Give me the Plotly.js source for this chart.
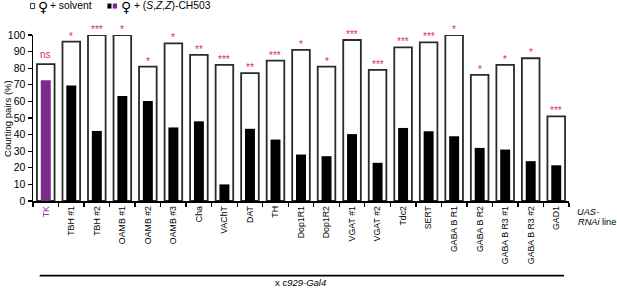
<!DOCTYPE html>
<html>
<head>
<meta charset="utf-8">
<script src="https://cdn.plot.ly/plotly-3.0.1.min.js"></script>
<style>html,body{margin:0;padding:0;background:#fff;} #chart{width:617px;height:289px;}</style>
</head>
<body>
<div id="chart"></div>
<script>
const categories = ["TK","TBH #1","TBH #2","OAMB #1","OAMB #2","OAMB #3","Cha","VAChT","DAT","TH","Dop1R1","Dop1R2","VGAT #1","VGAT #2","Tdc2","SERT","GABA B R1","GABA B R2","GABA B R3 #1","GABA B R3 #2","GAD1"];
const solvent = [82.5,96,100,100,81,95,88,82,77,84.6,91,81,97,79,92.5,95.6,100,76,82,86,51];
const ch503 = [72.7,69.6,42.2,63.2,60.2,44.3,48,10,43.5,37,28,27,40.3,23,44,42,39,32,31,24,21.5];
const signif = ["ns","*","***","*","*","*","**","***","**","***","*","*","***","***","***","***","*","*","*","*","***"];
const tickLabels = categories.map((c,i)=> i===0 ? '<span style="color:#7b2b8b">TK</span>' : c);

const purple = "#7b2b8b";
const red = "#d9304f";
const FONT = "Liberation Sans, Arial, sans-serif";

const traces = [
  {type:"bar", x:categories, y:solvent, width:0.69,
   marker:{color:"#ffffff", line:{color:"#2a2a2a", width:1.8}}, hoverinfo:"x+y"},
  {type:"bar", x:categories, y:ch503, width:0.39,
   marker:{color:categories.map((c,i)=> i===0 ? purple : "#000000"), line:{width:0}}, hoverinfo:"x+y"}
];

const annotations = categories.map((c,i)=>({
  x:c, y:solvent[i], xref:"x", yref:"y", text:signif[i], showarrow:false,
  yanchor:"bottom", yshift: signif[i]==="ns" ? 2 : -2,
  font:{family:FONT, size:10, color:red}
}));

function pa(text, x, y, opts){
  return Object.assign({xref:"paper", yref:"paper", x:x, y:y, xanchor:"left", yanchor:"middle",
    showarrow:false, borderpad:0, text:text, font:{family:FONT, size:10.3, color:"#000"}}, opts||{});
}
// legend
annotations.push(pa("♀", 0.0075, 1.168, {font:{family:"DejaVu Sans", size:14, color:"#000"}}));
annotations.push(pa("+ solvent", 0.0293, 1.1751));
annotations.push(pa("♀", 0.1632, 1.168, {font:{family:"DejaVu Sans", size:14, color:"#000"}}));
annotations.push(pa("+ (<i>S</i>,<i>Z</i>,<i>Z</i>)-CH503", 0.1867, 1.1751));
// y title
annotations.push(pa("Courting pairs (%)", -0.049, 0.499, {xanchor:"center", textangle:-90,
  font:{family:FONT, size:9.5, color:"#000"}}));
// UAS-RNAi line
annotations.push(pa("<i>UAS-</i>", 1.0135, -0.068, {font:{family:FONT, size:9.2, color:"#000"}}));
annotations.push(pa("<i>RNAi</i> line", 1.0149, -0.128, {font:{family:FONT, size:9.2, color:"#000"}}));
// cross label
annotations.push(pa("x <i>c929-Gal4</i>", 0.4997, -0.531, {xanchor:"center", yanchor:"bottom",
  font:{family:FONT, size:9.5, color:"#000"}}));

const layout = {
  width:617, height:289,
  margin:{l:33.3, r:48, t:35, b:88, pad:0},
  paper_bgcolor:"#fff", plot_bgcolor:"#fff",
  barmode:"overlay", showlegend:false,
  font:{family:FONT, color:"#000"},
  xaxis:{type:"category", tickvals:categories, ticktext:tickLabels, tickangle:-90,
    tickson:"boundaries", ticks:"outside", ticklen:4, tickwidth:1.3, tickcolor:"#000",
    showline:true, linecolor:"#000", linewidth:1.5, showgrid:false, zeroline:false,
    tickfont:{size:8.8, color:"#000"}, range:[-0.5,20.5], fixedrange:true},
  yaxis:{range:[0,100], dtick:10, tick0:0, ticks:"outside", ticklen:4, tickwidth:1.3, tickcolor:"#000",
    showline:true, linecolor:"#000", linewidth:1.5, showgrid:false, zeroline:false,
    tickfont:{size:10.5, color:"#000"}, fixedrange:true},
  shapes:[
    {type:"line", xref:"paper", yref:"paper", x0:0.0125, x1:0.9906, y0:-0.4496, y1:-0.4496,
      line:{color:"#000", width:1.6}},
    {type:"rect", xref:"paper", yref:"paper", x0:-0.0045, x1:0.0030, y0:1.1594, y1:1.1896,
      fillcolor:"#fff", line:{color:"#333", width:1}},
    {type:"rect", xref:"paper", yref:"paper", x0:0.1389, x1:0.1464, y0:1.1594, y1:1.1896,
      fillcolor:"#000", line:{width:0}},
    {type:"rect", xref:"paper", yref:"paper", x0:0.1488, x1:0.1568, y0:1.1594, y1:1.1896,
      fillcolor:purple, line:{width:0}}
  ],
  annotations:annotations
};

Plotly.newPlot("chart", traces, layout, {displayModeBar:false, staticPlot:true});
</script>
</body>
</html>
